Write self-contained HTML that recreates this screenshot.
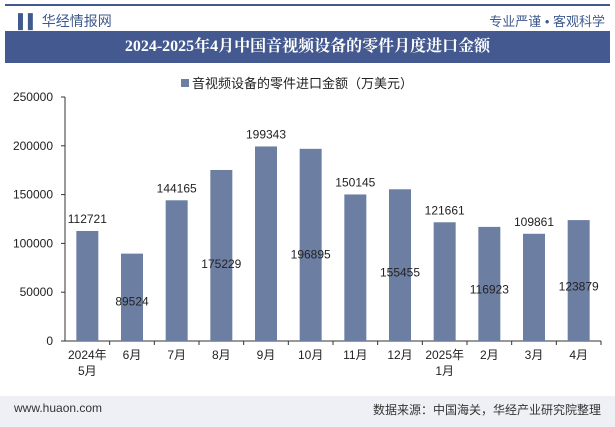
<!DOCTYPE html>
<html><head><meta charset="utf-8"><style>
body{margin:0;width:615px;height:427px;background:#fff;overflow:hidden;font-family:"Liberation Sans","Noto Sans CJK SC",sans-serif;position:relative}
</style></head><body>
<div style="position:absolute;left:5px;top:4px;width:605px;height:2px;background:#3f5a8e"></div>
<div style="position:absolute;left:18px;top:11px;font-size:14px;color:#3f5a8e">▌▌ 华经情报网</div>
<div style="position:absolute;right:10px;top:11px;font-size:13px;color:#3f5a8e">专业严谨 • 客观科学</div>
<div style="position:absolute;left:5px;top:31px;width:605px;height:32px;background:#44598f;color:#fff;font-family:'Liberation Serif','Noto Serif CJK SC',serif;font-weight:bold;font-size:16px;line-height:32px;text-align:center">2024-2025年4月中国音视频设备的零件月度进口金额</div>
<div style="position:absolute;left:0;top:396px;width:615px;height:31px;background:#eef0f5"></div>
<div style="position:absolute;left:14px;top:401px;font-size:12px;color:#333">www.huaon.com</div>
<div style="position:absolute;right:14px;top:401px;font-size:12px;color:#333">数据来源：中国海关，华经产业研究院整理</div>
<svg id="c" width="615" height="427" style="position:absolute;left:0;top:0"></svg>
<script>
const categories=["2024年\n5月","6月","7月","8月","9月","10月","11月","12月","2025年\n1月","2月","3月","4月"];
const values=[112721,89524,144165,175229,199343,196895,150145,155455,121661,116923,109861,123879];
const yTicks=[0,50000,100000,150000,200000,250000];
const svg=document.getElementById('c');const NS='http://www.w3.org/2000/svg';
function el(t,a){const e=document.createElementNS(NS,t);for(const k in a)e.setAttribute(k,a[k]);svg.appendChild(e);return e;}
const x0=65,x1=601,yb=341,yt=97,ymax=250000;
const y=v=>yb-(v/ymax)*(yb-yt);
const step=(x1-x0)/categories.length;
const xc=i=>x0+step*(i+0.5);
let e=el('line',{x1:x0,x2:x0,y1:yt,y2:yb,stroke:'#333'});

e=el('line',{x1:x0,x2:x1,y1:yb,y2:yb,stroke:'#333'});

yTicks.forEach(t=>{
 const l=el('line',{x1:x0-4,x2:x0,y1:y(t),y2:y(t),stroke:'#333'});
 
 const tx=el('text',{x:x0-12,y:y(t)+4,'text-anchor':'end','font-size':12,fill:'#222'});
 tx.textContent=t;
});
values.forEach((v,i)=>{
 const r=el('rect',{x:xc(i)-11,y:y(v),width:22,height:yb-y(v),fill:'#6d7ea3'});
 
 const inside=i%2==1;
 const ly=inside?y(v*0.45)+4:y(v)-8;
 const t=el('text',{x:xc(i),y:ly,'text-anchor':'middle','font-size':12,fill:'#222'});
 t.textContent=v;
 const tk=el('line',{x1:x0+step*(i+1),x2:x0+step*(i+1),y1:yb,y2:yb+4,stroke:'#333'});
 
 categories[i].split('\n').forEach((s,j)=>{
  const c=el('text',{x:xc(i),y:yb+18+j*16,'text-anchor':'middle','font-size':12,fill:'#222'});
  c.textContent=s;
 });
});
e=el('rect',{x:181,y:79,width:8,height:8,fill:'#6d7ea3'});

e=el('text',{x:192,y:88,'font-size':13,fill:'#222'});e.textContent='音视频设备的零件进口金额（万美元）';

</script>
</body></html>
